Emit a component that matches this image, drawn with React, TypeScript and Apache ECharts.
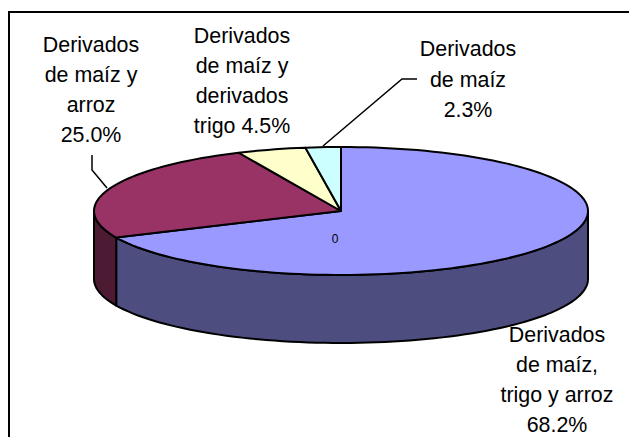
import React, { useEffect, useRef } from "react";
import * as echarts from "echarts";

const sliceNames = [
  "Derivados de maíz, trigo y arroz",
  "Derivados de maíz y arroz",
  "Derivados de maíz y derivados trigo",
  "Derivados de maíz",
];
const sliceValues = [68.2, 25.0, 4.5, 2.3];
const topColors = ["#9999FF", "#993366", "#FFFFCC", "#CCFFFF"];
const sideColors = ["#4D4D80", "#4D1A33", "#80806A", "#6A8080"];
const labelTexts = [
  "Derivados\nde maíz,\ntrigo y arroz\n68.2%",
  "Derivados\nde maíz y\narroz\n25.0%",
  "Derivados\nde maíz y\nderivados\ntrigo 4.5%",
  "Derivados\nde maíz\n2.3%",
];
const labelCenters = [
  [557, 380],
  [91, 90],
  [242, 81],
  [468, 79.5],
];
const FONT = "Liberation Sans, Arial, sans-serif";
const DEPTH = 68;
const INK = "#000000";

const total = sliceValues.reduce((a, b) => a + b, 0);
const cumulative = sliceValues.map((_, i) =>
  sliceValues.slice(0, i).reduce((a, b) => a + b, 0)
);
const seriesData = sliceValues.map((v, i) => ({
  name: sliceNames[i],
  value: [i, cumulative[i], v],
}));

function arcPoints(api: any, fromDeg: number, toDeg: number) {
  const pts: number[][] = [];
  const n = Math.max(2, Math.ceil(Math.abs(toDeg - fromDeg) / 2));
  for (let k = 0; k <= n; k++) {
    const t = ((fromDeg + ((toDeg - fromDeg) * k) / n) * Math.PI) / 180;
    pts.push(api.coord([Math.sin(t), Math.cos(t)]));
  }
  return pts;
}

function renderSlice(params: any, api: any) {
  const idx = api.value(0);
  const start = (api.value(1) / total) * 360;
  const end = ((api.value(1) + api.value(2)) / total) * 360;
  const centre = api.coord([0, 0]);
  const children: any[] = [];
  // Side wall: only the part of the rim on the front half (90°..270°).
  const a = Math.max(start, 90);
  const b = Math.min(end, 270);
  if (b > a) {
    const rim = arcPoints(api, a, b);
    const lower = rim.map((p) => [p[0], p[1] + DEPTH]).reverse();
    children.push({
      type: "polygon",
      z2: 1,
      shape: { points: rim.concat(lower) },
      style: { fill: sideColors[idx], stroke: INK, lineWidth: 2, lineJoin: "round" },
    });
  }
  // Top face.
  children.push({
    type: "polygon",
    z2: 2,
    shape: { points: [centre].concat(arcPoints(api, start, end)) },
    style: { fill: topColors[idx], stroke: INK, lineWidth: 2, lineJoin: "round" },
  });
  return { type: "group", children };
}

function renderLabel(params: any, api: any) {
  const idx = api.value(0);
  const [x, y] = labelCenters[idx];
  return {
    type: "text",
    x,
    y,
    style: {
      text: labelTexts[idx],
      fill: "#000000",
      font: `21.4px ${FONT}`,
      lineHeight: 30.3,
      align: "center",
      verticalAlign: "middle",
    },
  };
}

export default function App() {
  const ref = useRef<HTMLDivElement>(null);
  useEffect(() => {
    document.body.style.margin = "0";
    const chart = echarts.init(ref.current!, null, { renderer: "svg" });
    chart.setOption({
      animation: false,
      backgroundColor: "#FFFFFF",
      grid: { left: 94, top: 147, width: 494, height: 128 },
      xAxis: { type: "value", min: -1, max: 1, show: false },
      yAxis: { type: "value", min: -1, max: 1, show: false },
      graphic: [
        {
          type: "polyline",
          z: 0,
          shape: { points: [[9, 437], [9, 12], [629, 12]] },
          style: { fill: "none", stroke: INK, lineWidth: 2 },
        },
        {
          type: "polyline",
          z: 10,
          shape: { points: [[92, 155], [92, 170], [107, 188]] },
          style: { fill: "none", stroke: INK, lineWidth: 1.5 },
        },
        {
          type: "polyline",
          z: 10,
          shape: { points: [[417, 79], [402, 79], [323, 146]] },
          style: { fill: "none", stroke: INK, lineWidth: 1.5 },
        },
        {
          type: "text",
          z: 10,
          x: 335,
          y: 239,
          style: {
            text: "0",
            fill: "#000000",
            font: `12px ${FONT}`,
            align: "center",
            verticalAlign: "middle",
          },
        },
      ],
      series: [
        {
          type: "custom",
          coordinateSystem: "cartesian2d",
          clip: false,
          silent: true,
          data: seriesData,
          encode: { x: 0, y: 1 },
          renderItem: renderSlice,
        },
        {
          type: "custom",
          coordinateSystem: "cartesian2d",
          clip: false,
          silent: true,
          z: 5,
          data: seriesData,
          encode: { x: 0, y: 1 },
          renderItem: renderLabel,
        },
      ],
    });
    return () => chart.dispose();
  }, []);
  return <div ref={ref} style={{ width: 629, height: 437 }} />;
}
